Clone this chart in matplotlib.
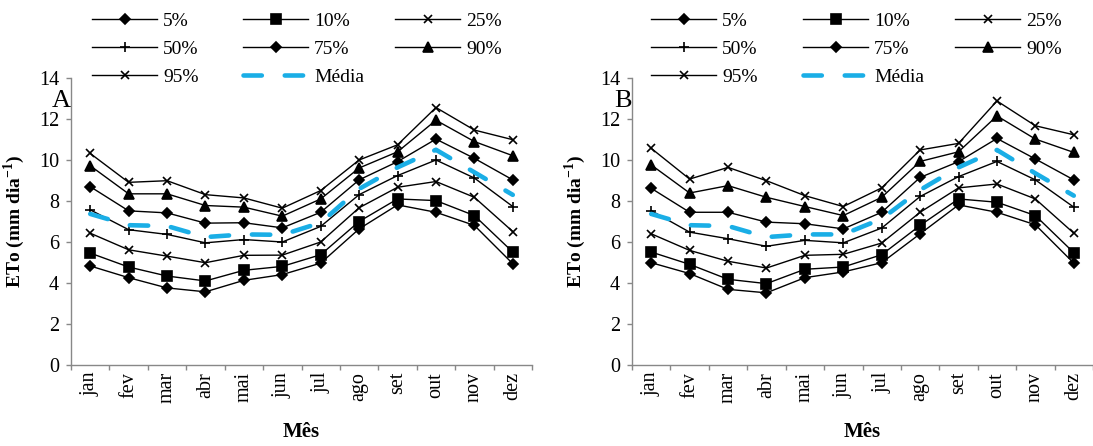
import matplotlib
matplotlib.use('Agg')
import matplotlib.pyplot as plt
from matplotlib.lines import Line2D
from matplotlib.legend import Legend
import numpy as np

plt.rcParams['font.family'] = ['Liberation Serif', 'DejaVu Serif']
plt.rcParams['mathtext.fontset'] = 'custom'
plt.rcParams['mathtext.rm'] = 'Liberation Serif'
plt.rcParams['mathtext.bf'] = 'Liberation Serif:bold'

months = ['jan', 'fev', 'mar', 'abr', 'mai', 'jun', 'jul', 'ago', 'set', 'out', 'nov', 'dez']
series_labels = ['5%', '10%', '25%', '50%', '75%', '90%', '95%', 'Média']

# Panel A
a_p5 = [4.83, 4.26, 3.76, 3.57, 4.13, 4.41, 4.97, 6.64, 7.81, 7.45, 6.81, 4.94]
a_p10 = [5.46, 4.78, 4.34, 4.10, 4.62, 4.81, 5.38, 7.00, 8.10, 8.02, 7.29, 5.51]
a_p25 = [6.43, 5.62, 5.31, 4.99, 5.35, 5.36, 6.00, 7.67, 8.67, 8.95, 8.18, 6.51]
a_p50 = [7.57, 6.60, 6.37, 5.96, 6.12, 6.00, 6.76, 8.31, 9.24, 10.00, 9.12, 7.73]
a_p75 = [8.70, 7.52, 7.42, 6.92, 6.94, 6.69, 7.45, 9.03, 9.92, 11.02, 10.08, 9.03]
a_p90 = [9.72, 8.35, 8.35, 7.78, 7.70, 7.26, 8.10, 9.61, 10.40, 11.94, 10.90, 10.21]
a_p95 = [10.32, 8.91, 8.99, 8.31, 8.15, 7.65, 8.51, 10.00, 10.74, 12.56, 11.46, 10.99]
a_media = [7.37, 6.82, 6.78, 6.24, 6.37, 6.35, 6.94, 8.59, 9.64, 10.50, 9.40, 8.30]

# Panel B
b_p5 = [4.99, 4.46, 3.69, 3.52, 4.26, 4.54, 4.99, 6.40, 7.81, 7.45, 6.84, 4.97]
b_p10 = [5.51, 4.91, 4.18, 3.97, 4.67, 4.78, 5.38, 6.81, 8.10, 7.94, 7.29, 5.48]
b_p25 = [6.40, 5.59, 5.06, 4.73, 5.35, 5.40, 5.95, 7.45, 8.64, 8.83, 8.10, 6.43]
b_p50 = [7.53, 6.48, 6.16, 5.79, 6.08, 5.96, 6.68, 8.22, 9.19, 9.93, 9.03, 7.70]
b_p75 = [8.62, 7.45, 7.45, 6.97, 6.89, 6.64, 7.45, 9.15, 9.92, 11.05, 10.05, 9.03]
b_p90 = [9.76, 8.39, 8.75, 8.18, 7.73, 7.29, 8.18, 9.93, 10.40, 12.15, 11.02, 10.37]
b_p95 = [10.57, 9.07, 9.64, 8.99, 8.26, 7.73, 8.64, 10.49, 10.81, 12.88, 11.67, 11.23]
b_media = [7.37, 6.82, 6.78, 6.24, 6.37, 6.37, 7.13, 8.54, 9.64, 10.49, 9.35, 8.26]

panels = [
    ('A', [a_p5, a_p10, a_p25, a_p50, a_p75, a_p90, a_p95], a_media),
    ('B', [b_p5, b_p10, b_p25, b_p50, b_p75, b_p90, b_p95], b_media),
]

markers = [('D', 5.5), ('s', 6.5), ('x', 6.3), ('+', 7.5), ('D', 5.5), ('^', 7), ('x', 6.3)]
BLUE = '#1AAEE6'
GRAY = '#888888'
FS = 14.5
LFS = 14

W, H = 1093, 446
fig = plt.figure(figsize=(W / 100, H / 100), dpi=100)


def box(x0, ytop, x1, ybot):
    return [x0 / W, 1 - ybot / H, (x1 - x0) / W, (ybot - ytop) / H]


def mk_line(i):
    m, ms = markers[i]
    return dict(color='black', lw=1.0, marker=m, ms=ms, mfc='black', mec='black', mew=1.2)


media_style = dict(color=BLUE, lw=3.3, linestyle=(0, (4, 5)), dash_capstyle='round')

axes_x = [(71, 532), (632, 1093)]
legend_cols = [[92, 243, 395], [651, 803, 955]]

for p, (letter, series, media) in enumerate(panels):
    x0, x1 = axes_x[p]
    ax = fig.add_axes(box(x0, 78, x1, 365))
    x = np.arange(len(months))
    for i, vals in enumerate(series):
        ax.plot(x, vals, label=series_labels[i], **mk_line(i))
    ax.plot(x, media, label='Média', **media_style)

    ax.set_xlim(-0.5, 11.5)
    ax.set_ylim(0, 14)
    ax.set_yticks(np.arange(0, 15, 2))
    ax.set_xticks(x)
    ax.set_xticklabels(months, rotation=90, fontsize=FS)
    ax.set_xticks(np.arange(-0.5, 12, 1), minor=True)
    ax.tick_params(axis='x', which='major', length=0, pad=5)
    ax.tick_params(axis='x', which='minor', length=3.6, width=1, color=GRAY, direction='out')
    ax.tick_params(axis='y', length=3.6, width=1, color=GRAY, pad=5, labelsize=FS)
    for s in ['top', 'right']:
        ax.spines[s].set_visible(False)
    for s in ['left', 'bottom']:
        ax.spines[s].set_color(GRAY)
        ax.spines[s].set_linewidth(1.0)

    ax.set_ylabel(r'ETo (mm dia$^{\mathbf{-1}}$)', fontsize=14, fontweight='bold')
    ax.yaxis.set_label_coords(-0.095, 0.5)
    ax.set_xlabel('Mês', fontsize=FS + 0.5, fontweight='bold')
    ax.xaxis.set_label_coords(0.5, -0.233)
    ax.xaxis.label.set_va('center')

    fig.text(x0 / W, 1 - 107 / H, letter, fontsize=19, ha='right', va='baseline')

    # legend columns
    handles = [Line2D([], [], **mk_line(i)) for i in range(7)] + [Line2D([], [], **media_style)]
    cols = [[0, 3, 6], [1, 4, 7], [2, 5]]
    for c, idxs in enumerate(cols):
        leg = Legend(ax, [handles[k] for k in idxs], [series_labels[k] for k in idxs],
                     loc='upper left',
                     bbox_to_anchor=(legend_cols[p][c] / W, 1 - 12 / H),
                     bbox_transform=fig.transFigure,
                     frameon=False, fontsize=LFS, borderpad=0, borderaxespad=0,
                     handlelength=65 / 19.4, handletextpad=0.3, labelspacing=0.55,
                     numpoints=1)
        ax.add_artist(leg)

fig.savefig('out.png', dpi=100)
